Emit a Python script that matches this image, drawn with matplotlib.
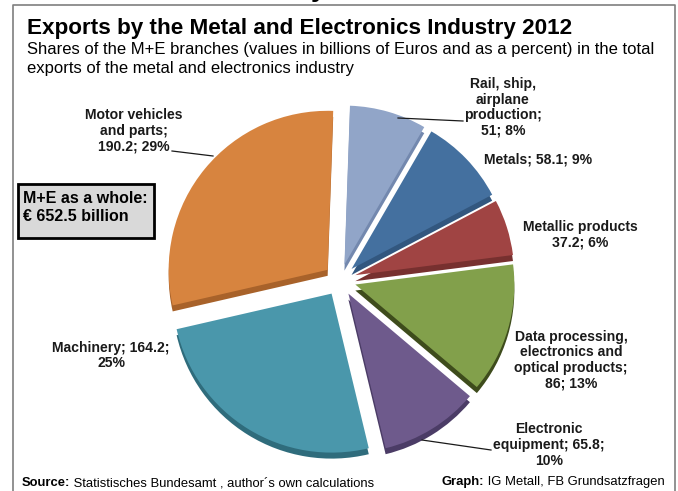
import matplotlib.pyplot as plt
from matplotlib.patches import Rectangle

plt.rcParams['font.family'] = ['Liberation Sans', 'DejaVu Sans']

# M+E export shares 2012, clockwise from the top
branches = ['Rail, ship,\nairplane\nproduction;', 'Metals;', 'Metallic products',
            'Data processing,\nelectronics and\noptical products;',
            'Electronic\nequipment;', 'Machinery;', 'Motor vehicles\nand parts;']
values = [51, 58.1, 37.2, 86, 65.8, 164.2, 190.2]
percents = [8, 9, 6, 13, 10, 25, 29]
total = 652.5

colors = ['#91A5C8', '#44709F', '#A04443', '#82A04B', '#6E5A8C', '#4A97AB', '#D7843F']
sides = ['#7388AE', '#32577F', '#77302F', '#3E4C1C', '#4B3C66', '#2F6C7C', '#A8622A']

W, H = 678, 491


def py(y):
    # pixel row (from top) -> data y
    return H - y


fig = plt.figure(figsize=(W / 100, H / 100), dpi=100)
ax = fig.add_axes([0, 0, 1, 1])

cx, cy, r = 340, 280, 159
# darker copy shifted down gives the slab edge, then the tops
ax.pie(values, colors=sides, startangle=88, counterclock=False, radius=r,
       explode=[16] * len(values), center=(cx, py(cy) - 6),
       wedgeprops=dict(linewidth=0))
ax.pie(values, colors=colors, startangle=88, counterclock=False, radius=r,
       explode=[16] * len(values), center=(cx, py(cy)),
       wedgeprops=dict(linewidth=0))
ax.set_xlim(0, W)
ax.set_ylim(0, H)
ax.set_aspect('auto')
ax.axis('off')

# frame
ax.plot([13, 13, 675, 675], [0, py(5), py(5), 0], color='#7f7f7f', lw=1.2)
ax.text(319, H + 4, 'y', fontsize=20, fontweight='bold', ha='center',
        va='baseline', clip_on=False)

ax.text(27, py(34), 'Exports by the Metal and Electronics Industry 2012',
        fontsize=16.2, fontweight='bold', va='baseline', ha='left')
ax.text(27, py(54), 'Shares of the M+E branches (values in billions of Euros and '
        'as a percent) in the total', fontsize=12, va='baseline', ha='left')
ax.text(27, py(73), 'exports of the metal and electronics industry',
        fontsize=12, va='baseline', ha='left')

# slice labels
lab_pos = [(503, 107.5), (538, 159), (580, 234.5), (571, 360),
           (549, 445), (111, 355.5), (134, 130.5)]
for name, v, p, (x, y) in zip(branches, values, percents, lab_pos):
    val = f'{v:g}'
    if name == 'Metals;':
        txt = f'{name} {val}; {p}%'
    elif name == 'Metallic products':
        txt = f'{name}\n{val}; {p}%'
    elif name.startswith('Electronic'):
        txt = f'Electronic\nequipment; {val};\n{p}%'
    elif name == 'Machinery;':
        txt = f'{name} {val};\n{p}%'
    else:
        txt = f'{name}\n{val}; {p}%'
    ax.text(x, py(y), txt, fontsize=10.1, fontweight='bold', color='#1a1a1a',
            ha='center', va='center', linespacing=1.15)

# leader lines
for (x0, y0), (x1, y1) in [((172, 151), (213, 156)),
                           ((398, 118), (463, 121)),
                           ((422, 440), (491, 450))]:
    ax.plot([x0, x1], [py(y0), py(y1)], color='#1a1a1a', lw=0.9)

# total box
ax.add_patch(Rectangle((18, py(238)), 136, 54, facecolor='#D9D9D9',
                       edgecolor='black', lw=2))
ax.text(23, py(207.5), f'M+E as a whole:\n€ {total} billion', fontsize=11.5,
        fontweight='bold', ha='left', va='center', linespacing=1.2)

# footer
t1 = ax.text(22, py(486), 'Source:', fontsize=9.4, fontweight='bold',
             ha='left', va='baseline')
ax.annotate(' Statistisches Bundesamt , author´s own calculations', xy=(1, 0),
            xycoords=t1, fontsize=9.4, ha='left', va='bottom')
t2 = ax.text(442, py(485), 'Graph:', fontsize=9.4, fontweight='bold',
             ha='left', va='baseline')
ax.annotate(' IG Metall, FB Grundsatzfragen', xy=(1, 0), xycoords=t2,
            fontsize=9.4, ha='left', va='bottom')

fig.savefig('out.png', dpi=100)
